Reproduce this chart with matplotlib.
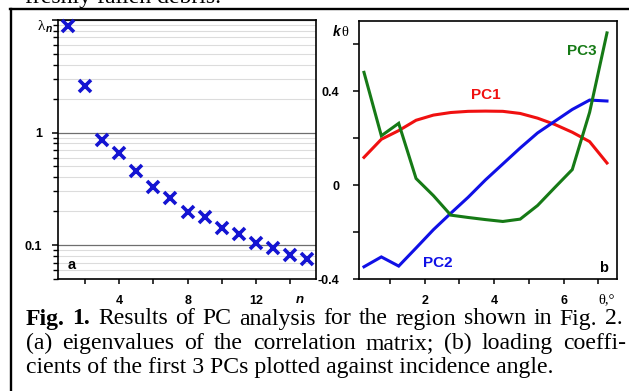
import matplotlib
matplotlib.use('Agg')
import matplotlib.pyplot as plt
import numpy as np
from matplotlib.ticker import FixedLocator, FixedFormatter, LogLocator, NullFormatter
from matplotlib.lines import Line2D

# panel a: eigenvalues of the correlation matrix
n_idx = [1, 2, 3, 4, 5, 6, 7, 8, 9, 10, 11, 12, 13, 14, 15]
eigvals = [8.8, 2.58, 0.855, 0.66, 0.46, 0.325, 0.26, 0.198, 0.176, 0.143,
           0.125, 0.104, 0.095, 0.081, 0.075]

# panel b: loading coefficients vs incidence angle
theta = [0.25, 0.75, 1.25, 1.75, 2.25, 2.75, 3.25, 3.75, 4.25, 4.75,
         5.25, 5.75, 6.25, 6.75, 7.25]
pc1 = [0.118, 0.195, 0.232, 0.276, 0.298, 0.309, 0.314, 0.315, 0.314, 0.305,
       0.285, 0.258, 0.225, 0.185, 0.094]
pc2 = [-0.348, -0.306, -0.345, -0.268, -0.19, -0.12, -0.052, 0.022, 0.09, 0.158,
       0.222, 0.272, 0.322, 0.362, 0.358]
pc3 = [0.48, 0.21, 0.263, 0.028, -0.045, -0.128, -0.138, -0.147, -0.155, -0.145,
       -0.087, -0.01, 0.066, 0.31, 0.648]

W, H = 629, 391
SANS = 'Liberation Sans'
SERIF = 'Liberation Serif'


def fx(x):
    return x / W


def fy(y):
    return 1 - y / H


fig = plt.figure(figsize=(W / 100, H / 100), dpi=100)
fig.patch.set_facecolor('white')

# ---- panel a ----
ax1 = fig.add_axes([fx(58.3), fy(279), fx(316 - 58.3), (279 - 20) / H])
ax1.set_yscale('log')
ax1.set_xlim(0.45, 15.5)
ax1.set_ylim(0.05, 10)
ax1.set_axisbelow(True)
ax1.plot(n_idx, eigvals, ls='none', marker='x', ms=8, mew=2.6, color='#1414d2',
         clip_on=False, zorder=3)
ax1.yaxis.set_major_locator(FixedLocator([0.1, 1, 10]))
ax1.yaxis.set_major_formatter(FixedFormatter(['0.1', '1', '']))
ax1.yaxis.set_minor_locator(LogLocator(base=10, subs=np.arange(2, 10)))
ax1.yaxis.set_minor_formatter(NullFormatter())
ax1.grid(True, axis='y', which='major', color='#6e6e6e', lw=0.9)
ax1.grid(True, axis='y', which='minor', color='#dcdcdc', lw=0.8)
ax1.set_xticks([2, 4, 6, 8, 10, 12, 14])
ax1.set_xticklabels(['', '4', '', '8', '', '12', ''])
ax1.tick_params(axis='y', which='major', length=4.5, width=1.1, pad=7)
ax1.tick_params(axis='y', which='minor', length=3.5, width=1.0)
ax1.tick_params(axis='x', length=3.5, width=1.1, pad=8)
ax1.text(0.035, 0.04, 'a', transform=ax1.transAxes, fontsize=10.5,
         family=SANS, weight='bold')

# ---- panel b ----
ax2 = fig.add_axes([fx(359.3), fy(279), fx(616.7 - 359.3), (279 - 20.7) / H])
ax2.set_xlim(0.115, 7.53)
ax2.set_ylim(-0.4, 0.7)
ax2.plot(theta, pc1, color='#f01010', lw=2.2, solid_joinstyle='miter')
ax2.plot(theta, pc2, color='#1010e6', lw=2.2, solid_joinstyle='miter')
ax2.plot(theta, pc3, color='#167a16', lw=2.2, solid_joinstyle='miter')
ax2.set_yticks([-0.4, -0.2, 0, 0.2, 0.4, 0.6])
ax2.set_yticklabels(['-0.4', '', '0', '', '0.4', ''])
ax2.set_xticks([1, 2, 3, 4, 5, 6, 7])
ax2.set_xticklabels(['', '2', '', '4', '', '6', ''])
ax2.tick_params(axis='y', length=4.5, width=1.1, pad=10)
ax2.tick_params(axis='x', length=3.5, width=1.1, pad=8)
ax2.text(485.5 / W, fy(95), 'PC1', transform=fig.transFigure, color='#f01010',
         fontsize=11, family=SANS, weight='bold', ha='center', va='center')
ax2.text(438 / W, fy(263), 'PC2', transform=fig.transFigure, color='#1010e6',
         fontsize=11, family=SANS, weight='bold', ha='center', va='center')
ax2.text(581.5 / W, fy(51), 'PC3', transform=fig.transFigure, color='#167a16',
         fontsize=11, family=SANS, weight='bold', ha='center', va='center')
ax2.text(603.5 / W, fy(268), 'b', transform=fig.transFigure, fontsize=10.5,
         family=SANS, weight='bold', ha='center', va='center')

for ax in (ax1, ax2):
    for s in ax.spines.values():
        s.set_linewidth(1.2)
    for lab in ax.get_xticklabels() + ax.get_yticklabels():
        lab.set_fontfamily(SANS)
        lab.set_fontweight('bold')
        lab.set_fontsize(9)

# axis symbols
fig.text(fx(45), fy(26), '\u03bb', family=SERIF, fontsize=11, ha='right', va='center')
fig.text(fx(45.5), fy(29), 'n', family=SANS, weight='bold', style='italic',
         fontsize=7.5, ha='left', va='center')
fig.text(fx(300), fy(300), 'n', family=SANS, weight='bold', style='italic',
         fontsize=9.5, ha='center', va='center')
fig.text(fx(341), fy(31.5), 'k', family=SANS, weight='bold', style='italic',
         fontsize=10, ha='right', va='center')
fig.text(fx(341), fy(32), '\u03b8', family=SERIF, fontsize=10.5, ha='left', va='center')
fig.text(fx(606.5), fy(300), '\u03b8,\u00b0', family=SERIF, fontsize=10.5,
         ha='center', va='center')

# outer frame of the page figure
fig.add_artist(Line2D([fx(11), fx(11)], [fy(9), 0], color='black', lw=1.7,
                      transform=fig.transFigure))
fig.add_artist(Line2D([fx(10.2), 1], [fy(9), fy(9)], color='black', lw=1.7,
                      transform=fig.transFigure))

# caption text
renderer = fig.canvas.get_renderer()
line3 = 'cients of the first 3 PCs plotted against incidence angle.'
probe = fig.text(0, 0, line3, family=SERIF, fontsize=15)
cap_size = 15 * 530 / probe.get_window_extent(renderer).width
probe.remove()


def justified(words, x0, x1, ybase):
    txts = []
    for w, bold in words:
        t = fig.text(0, fy(ybase), w, family=SERIF, fontsize=cap_size,
                     weight='bold' if bold else 'normal', va='baseline')
        txts.append(t)
    widths = [t.get_window_extent(renderer).width for t in txts]
    gap = (x1 - x0 - sum(widths)) / (len(txts) - 1)
    x = x0
    for t, wd in zip(txts, widths):
        t.set_x(fx(x))
        x += wd + gap


l1 = [('Fig.', True), ('1.', True)] + [(w, False) for w in
      'Results of PC analysis for the region shown in Fig. 2.'.split()]
l2 = [(w, False) for w in
      '(a) eigenvalues of the correlation matrix; (b) loading coeffi-'.split()]
justified(l1, 26, 622.5, 324.5)
justified(l2, 26, 626, 349)
fig.text(fx(26), fy(373.5), line3, family=SERIF, fontsize=cap_size, va='baseline')
fig.text(fx(25), fy(3.5), 'freshly fallen debris.', family=SERIF, fontsize=cap_size,
         va='baseline')

fig.savefig('out.png', dpi=100)
